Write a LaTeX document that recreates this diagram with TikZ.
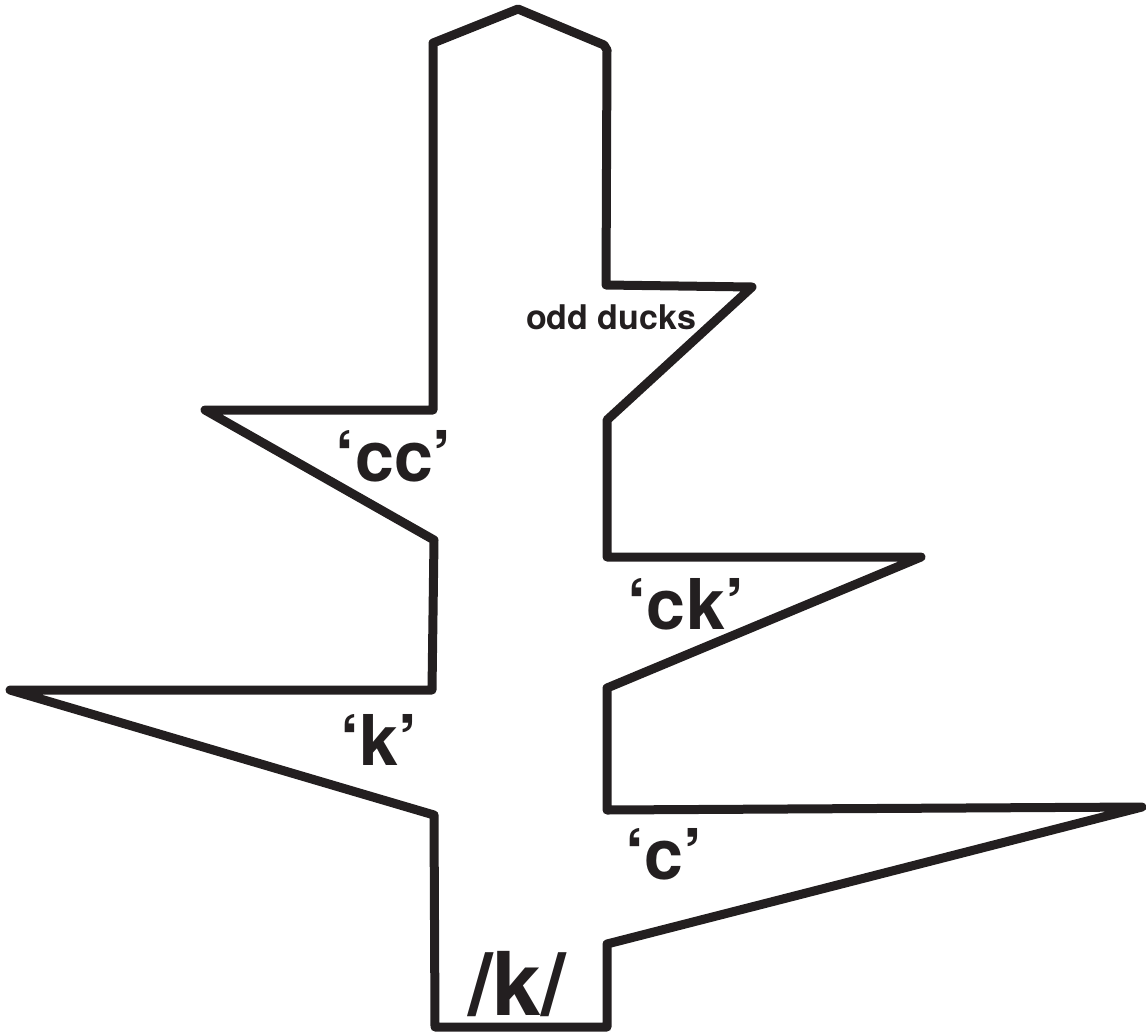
\documentclass[tikz,border=0pt]{standalone}
\usepackage{fontspec}
\setmainfont{TeX Gyre Heros}
\usepackage{xcolor}
\usepackage{tikz}
\usetikzlibrary{positioning}
\definecolor{inkc}{HTML}{231F20}
\tikzset{
  outline/.style={draw=inkc,line width=4.5pt,line join=round,line cap=round},
  lbl/.style={text=inkc,font=\bfseries,inner sep=0pt}
}
\begin{document}
\begin{tikzpicture}[x=0.5pt,y=-0.5pt]
\useasboundingbox (0,0) rectangle (1146,1034);
% the tree outline
\draw[outline] (433,43)--(518,9)--(604,45)--(607,50)--(606,285)--(752,287)--(607,420)
  --(607,557)--(921,557)--(607,688)--(607,810)--(1142,807)--(607,944)--(607,1027)
  --(435,1027)--(434,815)--(10,690)--(432,690)--(434,540)--(205,410)--(433,410)--cycle;
% labels
\node[lbl,font=\bfseries\fontsize{17}{20}\selectfont] (odd) at (611,317) {odd ducks};
\node[lbl,font=\bfseries\fontsize{35}{40}\selectfont] (cc) at (394,456) {`cc'};
\node[lbl,font=\bfseries\fontsize{35}{40}\selectfont] (ck) at (686,604) {`ck'};
\node[lbl,font=\bfseries\fontsize{35}{40}\selectfont] (k) at (379,740) {`k'};
\node[lbl,font=\bfseries\fontsize{35}{40}\selectfont] (c) at (664,854) {`c'};
\node[lbl,font=\bfseries\fontsize{44}{50}\selectfont] (phon) at (517,984) {/k/};
\end{tikzpicture}
\end{document}
